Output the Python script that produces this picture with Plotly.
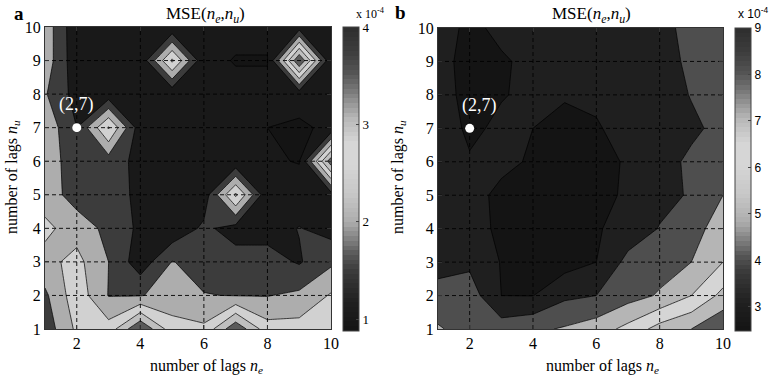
import plotly.graph_objects as go

# ---------------- data ----------------
NE = [1, 2, 3, 4, 5, 6, 7, 8, 9, 10]
NU = [1, 2, 3, 4, 5, 6, 7, 8, 9, 10]
X_TICKS = [2, 4, 6, 8, 10]
Y_TICKS = [1, 2, 3, 4, 5, 6, 7, 8, 9, 10]
GRID_X = [2, 4, 6, 8]
GRID_Y = [2, 3, 4, 5, 6, 7, 8, 9]

# MSE x 1e-4, rows are nu = 1..10, columns ne = 1..10  (panel a)
MSE_A_NU1 = [1.70, 2.60, 2.70, 4.00, 2.70, 2.60, 3.90, 2.70, 2.70, 2.60]
MSE_A_NU2 = [1.90, 2.80, 1.98, 1.97, 2.20, 2.02, 1.98, 1.98, 2.10, 2.55]
MSE_A_NU3 = [2.35, 2.65, 2.00, 1.20, 2.02, 1.80, 1.70, 1.70, 1.45, 1.90]
MSE_A_NU4 = [2.60, 2.30, 1.85, 1.40, 1.10, 1.60, 1.30, 1.30, 1.52, 1.30]
MSE_A_NU5 = [2.30, 1.75, 1.80, 1.35, 1.10, 1.20, 3.10, 1.10, 1.20, 1.30]
MSE_A_NU6 = [2.30, 1.70, 1.75, 1.35, 1.10, 1.10, 1.10, 1.05, 0.98, 3.80]
MSE_A_NU7 = [2.36, 1.50, 3.05, 1.20, 1.10, 1.10, 1.10, 1.00, 0.92, 1.10]
MSE_A_NU8 = [2.05, 1.30, 1.20, 1.10, 1.10, 1.10, 1.10, 1.10, 1.20, 1.10]
MSE_A_NU9 = [2.30, 1.15, 1.15, 1.10, 3.10, 1.10, 0.98, 0.98, 4.00, 1.10]
MSE_A_NU10 = [2.31, 1.12, 1.10, 1.10, 1.10, 1.05, 1.10, 1.10, 1.25, 1.10]

# panel b
MSE_B_NU1 = [5.10, 4.60, 4.50, 4.80, 5.10, 5.50, 6.30, 7.40, 8.00, 8.90]
MSE_B_NU2 = [4.40, 4.50, 3.00, 2.98, 3.80, 4.00, 4.60, 5.10, 6.00, 7.30]
MSE_B_NU3 = [3.60, 3.80, 2.95, 2.70, 2.60, 3.00, 4.30, 4.60, 5.00, 6.00]
MSE_B_NU4 = [3.40, 3.20, 2.90, 2.70, 2.65, 2.90, 3.40, 4.05, 4.60, 5.50]
MSE_B_NU5 = [3.40, 3.15, 2.90, 2.80, 2.70, 2.80, 3.10, 3.70, 4.10, 5.00]
MSE_B_NU6 = [3.40, 3.05, 3.10, 2.95, 2.80, 2.85, 3.05, 3.60, 4.20, 4.60]
MSE_B_NU7 = [3.30, 2.90, 3.10, 3.00, 2.90, 2.95, 3.20, 3.50, 3.80, 4.30]
MSE_B_NU8 = [3.20, 2.85, 2.97, 3.10, 3.03, 3.10, 3.30, 3.50, 4.05, 4.40]
MSE_B_NU9 = [3.20, 2.80, 2.95, 3.10, 3.20, 3.30, 3.40, 3.60, 4.20, 4.50]
MSE_B_NU10 = [3.20, 2.90, 3.10, 3.20, 3.30, 3.40, 3.50, 3.70, 4.30, 4.60]

MSE_A = [MSE_A_NU1, MSE_A_NU2, MSE_A_NU3, MSE_A_NU4, MSE_A_NU5,
         MSE_A_NU6, MSE_A_NU7, MSE_A_NU8, MSE_A_NU9, MSE_A_NU10]
MSE_B = [MSE_B_NU1, MSE_B_NU2, MSE_B_NU3, MSE_B_NU4, MSE_B_NU5,
         MSE_B_NU6, MSE_B_NU7, MSE_B_NU8, MSE_B_NU9, MSE_B_NU10]

LEVELS_A = [1.0, 1.5, 2.0, 2.5, 3.0, 3.5, 4.0]
LEVELS_B = [3.0, 4.0, 5.0, 6.0, 7.0, 8.0, 9.0]
CRANGE_A = [0.88, 4.0]
CRANGE_B = [2.48, 9.0]
CTICKS_A = [1, 2, 3, 4]
CTICKS_B = [3, 4, 5, 6, 7, 8, 9]
BEST_NE = [2]
BEST_NU = [7]
BEST_LABEL = "(2,7)"

# grey colormap (dark - light - dark), position -> grey level
CM_T = [0.0, 0.04, 0.10, 0.20, 0.25, 0.30, 0.36, 0.45, 0.55, 0.62, 0.70, 0.80, 0.85, 0.92, 1.0]
CM_G = [0.08, 0.10, 0.13, 0.235, 0.34, 0.50, 0.68, 0.78, 0.84, 0.84, 0.72, 0.45, 0.33, 0.24, 0.18]

SERIF = "Liberation Serif"
SANS = "Liberation Sans"
W, H = 777, 378


def cm(t):
    t = min(max(t, 0.0), 1.0)
    g = CM_G[-1]
    for i in range(len(CM_T) - 1):
        if t <= CM_T[i + 1]:
            f = (t - CM_T[i]) / (CM_T[i + 1] - CM_T[i])
            g = CM_G[i] + f * (CM_G[i + 1] - CM_G[i])
            break
    v = int(round(g * 255))
    return f"rgb({v},{v},{v})"


def band_scale(levels, crange):
    vmin, vmax = crange
    cols = [cm(0.0)] + [cm((L - vmin) / (vmax - vmin)) for L in levels]
    nc = len(levels)
    scale = []
    for j, c in enumerate(cols):
        lo = max(0.0, (j - 0.5) / nc)
        hi = min(1.0, (j + 0.5) / nc)
        scale.append([lo, c])
        scale.append([hi, c])
    return scale


def bar_scale(n=64):
    s = []
    for i in range(n):
        c = cm((i + 0.5) / n)
        s.append([i / n, c])
        s.append([(i + 1) / n, c])
    return s


def px_x(p):
    return p / W


def px_y(p):
    return 1 - p / H


fig = go.Figure()

panels = [
    dict(z=MSE_A, levels=LEVELS_A, crange=CRANGE_A, cticks=CTICKS_A, xa="x", ya="y",
         cbx=343, cby0=27, cby1=331, cbfont=SERIF, cbsize=13),
    dict(z=MSE_B, levels=LEVELS_B, crange=CRANGE_B, cticks=CTICKS_B, xa="x2", ya="y2",
         cbx=735, cby0=28, cby1=331, cbfont=SANS, cbsize=12),
]

for p in panels:
    lv = p["levels"]
    fig.add_trace(go.Contour(
        x=NE, y=NU, z=p["z"], xaxis=p["xa"], yaxis=p["ya"],
        colorscale=band_scale(lv, p["crange"]),
        autocontour=False,
        contours=dict(start=lv[0], end=lv[-1], size=lv[1] - lv[0],
                      coloring="fill", showlines=True),
        line=dict(color="black", width=0.7, smoothing=0),
        showscale=False, hoverinfo="skip"))
    # grid lines (dashed, above the fill)
    gx, gy = [], []
    for v in GRID_X:
        gx += [v, v, None]
        gy += [NU[0], NU[-1], None]
    for v in GRID_Y:
        gx += [NE[0], NE[-1], None]
        gy += [v, v, None]
    fig.add_trace(go.Scatter(x=gx, y=gy, xaxis=p["xa"], yaxis=p["ya"], mode="lines",
                             line=dict(color="black", width=0.9, dash="4px,3px"),
                             showlegend=False, hoverinfo="skip"))
    # best point
    fig.add_trace(go.Scatter(x=BEST_NE, y=BEST_NU, xaxis=p["xa"], yaxis=p["ya"],
                             mode="markers", marker=dict(size=9, color="white",
                                                         line=dict(width=0)),
                             showlegend=False, hoverinfo="skip"))
    # colorbar via dummy trace
    vmin, vmax = p["crange"]
    fig.add_trace(go.Scatter(
        x=[None], y=[None], xaxis=p["xa"], yaxis=p["ya"], mode="markers",
        marker=dict(color=[vmin], cmin=vmin, cmax=vmax, colorscale=bar_scale(),
                    showscale=True,
                    colorbar=dict(
                        thickness=16, thicknessmode="pixels",
                        len=p["cby1"] - p["cby0"], lenmode="pixels",
                        x=px_x(p["cbx"]), xanchor="left", xref="paper",
                        y=px_y(p["cby1"]), yanchor="bottom", yref="paper",
                        xpad=0, ypad=0, borderwidth=0,
                        outlinewidth=1, outlinecolor="#444",
                        tickvals=p["cticks"], ticktext=[str(t) for t in p["cticks"]],
                        ticks="inside", ticklen=3, tickcolor="#444",
                        tickfont=dict(family=p["cbfont"], size=p["cbsize"], color="black"))),
        showlegend=False, hoverinfo="skip"))

axis_common = dict(range=[1, 10], showline=True, mirror="ticks", linecolor="#333",
                   linewidth=1, ticks="inside", ticklen=4, tickcolor="#333",
                   showgrid=False, zeroline=False,
                   tickfont=dict(family=SERIF, size=16, color="black"))

fig.update_layout(
    width=W, height=H, margin=dict(l=0, r=0, t=0, b=0, autoexpand=False),
    paper_bgcolor="white", plot_bgcolor="white", showlegend=False,
    xaxis=dict(domain=[px_x(45), px_x(331)], anchor="y", tickvals=X_TICKS,
               ticktext=[str(v) for v in X_TICKS], **axis_common),
    yaxis=dict(domain=[px_y(329), px_y(27)], anchor="x", tickvals=Y_TICKS,
               ticktext=[str(v) for v in Y_TICKS], **axis_common),
    xaxis2=dict(domain=[px_x(438), px_x(723)], anchor="y2", tickvals=X_TICKS,
                ticktext=[str(v) for v in X_TICKS], **axis_common),
    yaxis2=dict(domain=[px_y(329), px_y(28)], anchor="x2", tickvals=Y_TICKS,
                ticktext=[str(v) for v in Y_TICKS], **axis_common),
)

ann = []
title_txt = "MSE(<i>n<sub>e</sub></i>,<i>n<sub>u</sub></i>)"
xt_txt = "number of lags <i>n<sub>e</sub></i>"
yt_txt = "number of lags <i>n<sub>u</sub></i>"


def add_ann(text, x, y, size, family=SERIF, xanchor="center", angle=0):
    ann.append(dict(text=text, x=px_x(x), y=px_y(y), xref="paper", yref="paper",
                    xanchor=xanchor, yanchor="middle", showarrow=False, textangle=angle,
                    font=dict(family=family, size=size, color="black")))


for lab, lx, ly, tx, xtx, ytx, cbx, cbfont in [
        ("a", 19, 14, 205, 206, 12, 354, SERIF),
        ("b", 400, 12, 591, 602, 398, 736, SANS)]:
    add_ann(f"<b>{lab}</b>", lx, ly, 19)
    add_ann(title_txt, tx, 15, 17)
    add_ann(xt_txt, xtx, 366, 16)
    add_ann(yt_txt, ytx, 177, 16, angle=-90)
    add_ann("x 10<sup>-4</sup>", cbx, 13, 12, family=cbfont, xanchor="left")

for xa, ya, sh in [("x", "y", 0), ("x2", "y2", 10)]:
    ann.append(dict(text=BEST_LABEL, x=BEST_NE[0], y=BEST_NU[0], xref=xa, yref=ya,
                    xanchor="center", yanchor="middle",
                    xshift=sh, yshift=23, showarrow=False,
                    font=dict(family=SERIF, size=18, color="white")))

fig.update_layout(annotations=ann)
fig.write_html("out.html", config={"displayModeBar": False},
               post_script="document.body.style.margin='0px';")
